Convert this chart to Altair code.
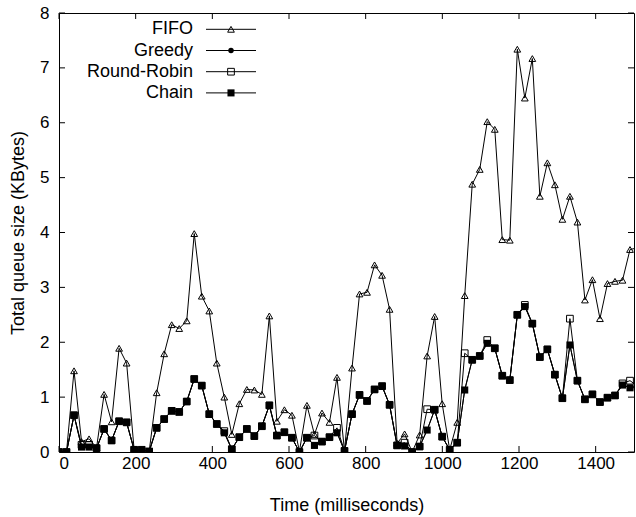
import altair as alt
import pandas as pd

FONT = "Liberation Sans"

TIME_MS = [
    0, 19.6, 39.2, 58.8, 78.4, 98, 117.6, 137.2, 156.8, 176.4,
    196, 215.6, 235.2, 254.8, 274.4, 294, 313.6, 333.2, 352.8, 372.4,
    392, 411.6, 431.2, 450.8, 470.4, 490, 509.6, 529.2, 548.8, 568.4,
    588, 607.6, 627.2, 646.8, 666.4, 686, 705.6, 725.2, 744.8, 764.4,
    784, 803.6, 823.2, 842.8, 862.4, 882, 901.6, 921.2, 940.8, 960.4,
    980, 999.6, 1019.2, 1038.8, 1058.4, 1078, 1097.6, 1117.2, 1136.8, 1156.4,
    1176, 1195.6, 1215.2, 1234.8, 1254.4, 1274, 1293.6, 1313.2, 1332.8, 1352.4,
    1372, 1391.6, 1411.2, 1430.8, 1450.4, 1470, 1489.6, 1509.2,
]

FIFO = [
    0.0, 0.0, 1.48, 0.19, 0.24, 0.08, 1.05, 0.55, 1.89, 1.62,
    0.04, 0.04, 0.01, 1.08, 1.79, 2.32, 2.25, 2.39, 3.98, 2.84,
    2.57, 1.62, 1.0, 0.32, 0.88, 1.14, 1.13, 1.05, 2.48, 0.56,
    0.77, 0.67, 0.01, 0.85, 0.32, 0.71, 0.54, 1.36, 0.02, 1.53,
    2.88, 2.91, 3.41, 3.22, 2.6, 0.16, 0.33, 0.0, 0.31, 1.75,
    2.47, 0.88, 0.04, 0.54, 2.85, 4.88, 5.15, 6.02, 5.88, 3.87,
    3.86, 7.34, 6.45, 7.17, 4.66, 5.27, 4.87, 4.24, 4.66, 4.19,
    2.77, 3.14, 2.43, 3.07, 3.11, 3.13, 3.69, 3.72,
]

CHAIN = [
    0.0, 0.0, 0.67, 0.09, 0.09, 0.07, 0.42, 0.21, 0.56, 0.54,
    0.04, 0.04, 0.01, 0.44, 0.6, 0.75, 0.73, 0.92, 1.33, 1.21,
    0.69, 0.51, 0.35, 0.05, 0.27, 0.42, 0.29, 0.47, 0.85, 0.30,
    0.36, 0.26, 0.0, 0.26, 0.12, 0.19, 0.27, 0.35, 0.02, 0.69,
    1.04, 0.93, 1.14, 1.2, 0.86, 0.12, 0.11, 0.0, 0.1, 0.4,
    0.77, 0.28, 0.04, 0.17, 1.13, 1.68, 1.75, 1.98, 1.89, 1.39,
    1.31, 2.5, 2.65, 2.34, 1.73, 1.87, 1.41, 0.98, 1.95, 1.3,
    0.96, 1.05, 0.91, 0.99, 1.03, 1.22, 1.17, 1.2,
]

GREEDY = [
    0.0, 0.0, 0.67, 0.09, 0.09, 0.07, 0.42, 0.21, 0.56, 0.54,
    0.04, 0.04, 0.01, 0.44, 0.6, 0.75, 0.73, 0.92, 1.33, 1.21,
    0.69, 0.51, 0.35, 0.05, 0.27, 0.42, 0.29, 0.47, 0.85, 0.30,
    0.36, 0.26, 0.0, 0.26, 0.12, 0.19, 0.27, 0.35, 0.02, 0.69,
    1.04, 0.93, 1.14, 1.2, 0.86, 0.12, 0.11, 0.0, 0.1, 0.4,
    0.77, 0.28, 0.04, 0.17, 1.13, 1.68, 1.75, 1.98, 1.89, 1.39,
    1.31, 2.5, 2.65, 2.34, 1.73, 1.87, 1.41, 0.98, 1.95, 1.3,
    0.96, 1.05, 0.91, 0.99, 1.03, 1.22, 1.17, 1.2,
]

ROUND_ROBIN = [
    0.0, 0.0, 0.67, 0.13, 0.13, 0.07, 0.42, 0.21, 0.56, 0.54,
    0.04, 0.04, 0.01, 0.44, 0.6, 0.75, 0.73, 0.92, 1.33, 1.21,
    0.69, 0.51, 0.38, 0.05, 0.27, 0.42, 0.29, 0.47, 0.85, 0.30,
    0.36, 0.26, 0.0, 0.26, 0.30, 0.19, 0.27, 0.44, 0.02, 0.69,
    1.04, 0.93, 1.14, 1.2, 0.86, 0.12, 0.17, 0.0, 0.1, 0.78,
    0.77, 0.28, 0.04, 0.17, 1.8, 1.68, 1.75, 2.04, 1.89, 1.39,
    1.31, 2.5, 2.68, 2.34, 1.73, 1.87, 1.41, 0.98, 2.43, 1.3,
    0.96, 1.05, 0.91, 0.99, 1.03, 1.25, 1.3, 1.2,
]

SERIES_NAMES = ["FIFO", "Greedy", "Round-Robin", "Chain"]
X_TICKS = [0, 200, 400, 600, 800, 1000, 1200, 1400]
Y_TICKS = [0, 1, 2, 3, 4, 5, 6, 7, 8]

W, H = 575, 439
TICK_LEN = 6

df = pd.DataFrame({
    "t": TIME_MS,
    "FIFO": FIFO,
    "Greedy": GREEDY,
    "Round-Robin": ROUND_ROBIN,
    "Chain": CHAIN,
})
long = df.melt("t", var_name="series", value_name="kb")

xs = alt.Scale(domain=[0, 1500], nice=False, zero=False)
ys = alt.Scale(domain=[0, 8], nice=False)

x_axis = alt.Axis(
    values=X_TICKS, format="d", domain=False, ticks=False, grid=False,
    labelFontSize=17, labelFont=FONT, labelColor="black", labelPadding=3,
    title="Time (milliseconds)", titleFontSize=18, titleFont=FONT,
    titleFontWeight="normal", titleColor="black",
    titleY=58, titleBaseline="alphabetic",
)
y_axis = alt.Axis(
    values=Y_TICKS, format="d", domain=False, ticks=False, grid=False,
    labelFontSize=17, labelFont=FONT, labelColor="black", labelPadding=10,
    title="Total queue size (KBytes)", titleFontSize=18, titleFont=FONT,
    titleFontWeight="normal", titleColor="black",
    titleX=-36, titleBaseline="alphabetic",
)

STYLE = {
    "FIFO": dict(shape="triangle-up", filled=False, size=45),
    "Greedy": dict(shape="circle", filled=True, size=30),
    "Round-Robin": dict(shape="square", filled=False, size=45),
    "Chain": dict(shape="square", filled=True, size=50),
}

layers = []
for name in SERIES_NAMES:
    src = alt.Chart(long).transform_filter(alt.datum.series == name)
    enc = dict(
        x=alt.X("t:Q", scale=xs, axis=x_axis),
        y=alt.Y("kb:Q", scale=ys, axis=y_axis),
    )
    layers.append(src.mark_line(color="black", strokeWidth=1, clip=True).encode(**enc))
    st = STYLE[name]
    layers.append(
        src.mark_point(
            shape=st["shape"], filled=st["filled"], size=st["size"],
            color="black", strokeWidth=1, opacity=1, clip=True,
        ).encode(**enc)
    )

# inward tick marks (gnuplot style) on all four sides
xt = pd.DataFrame({"t": X_TICKS})
yt = pd.DataFrame({"kb": Y_TICKS})
layers.append(alt.Chart(xt).mark_rule(color="black", strokeWidth=1).encode(
    x=alt.X("t:Q", scale=xs, axis=x_axis), y=alt.value(H), y2=alt.value(H - TICK_LEN)))
layers.append(alt.Chart(xt).mark_rule(color="black", strokeWidth=1).encode(
    x=alt.X("t:Q", scale=xs, axis=x_axis), y=alt.value(0), y2=alt.value(TICK_LEN)))
layers.append(alt.Chart(yt).mark_rule(color="black", strokeWidth=1).encode(
    y=alt.Y("kb:Q", scale=ys, axis=y_axis), x=alt.value(0), x2=alt.value(TICK_LEN)))
layers.append(alt.Chart(yt).mark_rule(color="black", strokeWidth=1).encode(
    y=alt.Y("kb:Q", scale=ys, axis=y_axis), x=alt.value(W - TICK_LEN), x2=alt.value(W)))

# legend (labels right-aligned, sample line + marker to the right)
LEG_TEXT_X = 134
LEG_LINE_X1, LEG_LINE_X2, LEG_MARK_X = 147, 197, 172
LEG_ROW0, LEG_ROW_STEP = 16.3, 21.2
for k, name in enumerate(SERIES_NAMES):
    row_y = LEG_ROW0 + k * LEG_ROW_STEP
    one = alt.Chart(pd.DataFrame({"name": [name]}))
    layers.append(one.mark_text(
        align="right", baseline="middle", fontSize=18, font=FONT, color="black"
    ).encode(x=alt.value(LEG_TEXT_X), y=alt.value(row_y), text="name:N"))
    layers.append(one.mark_rule(color="black", strokeWidth=1).encode(
        x=alt.value(LEG_LINE_X1), x2=alt.value(LEG_LINE_X2), y=alt.value(row_y)))
    st = STYLE[name]
    layers.append(one.mark_point(
        shape=st["shape"], filled=st["filled"], size=st["size"],
        color="black", strokeWidth=1, opacity=1,
    ).encode(x=alt.value(LEG_MARK_X), y=alt.value(row_y)))

chart = alt.layer(*layers).properties(
    width=W, height=H,
    padding={"left": 59, "top": 13, "right": 2, "bottom": 65},
    autosize=alt.AutoSizeParams(type="none"),
    background="white",
).configure_view(stroke="black", strokeWidth=1)

chart.save("out.html", embed_options={"renderer": "svg", "actions": False})
